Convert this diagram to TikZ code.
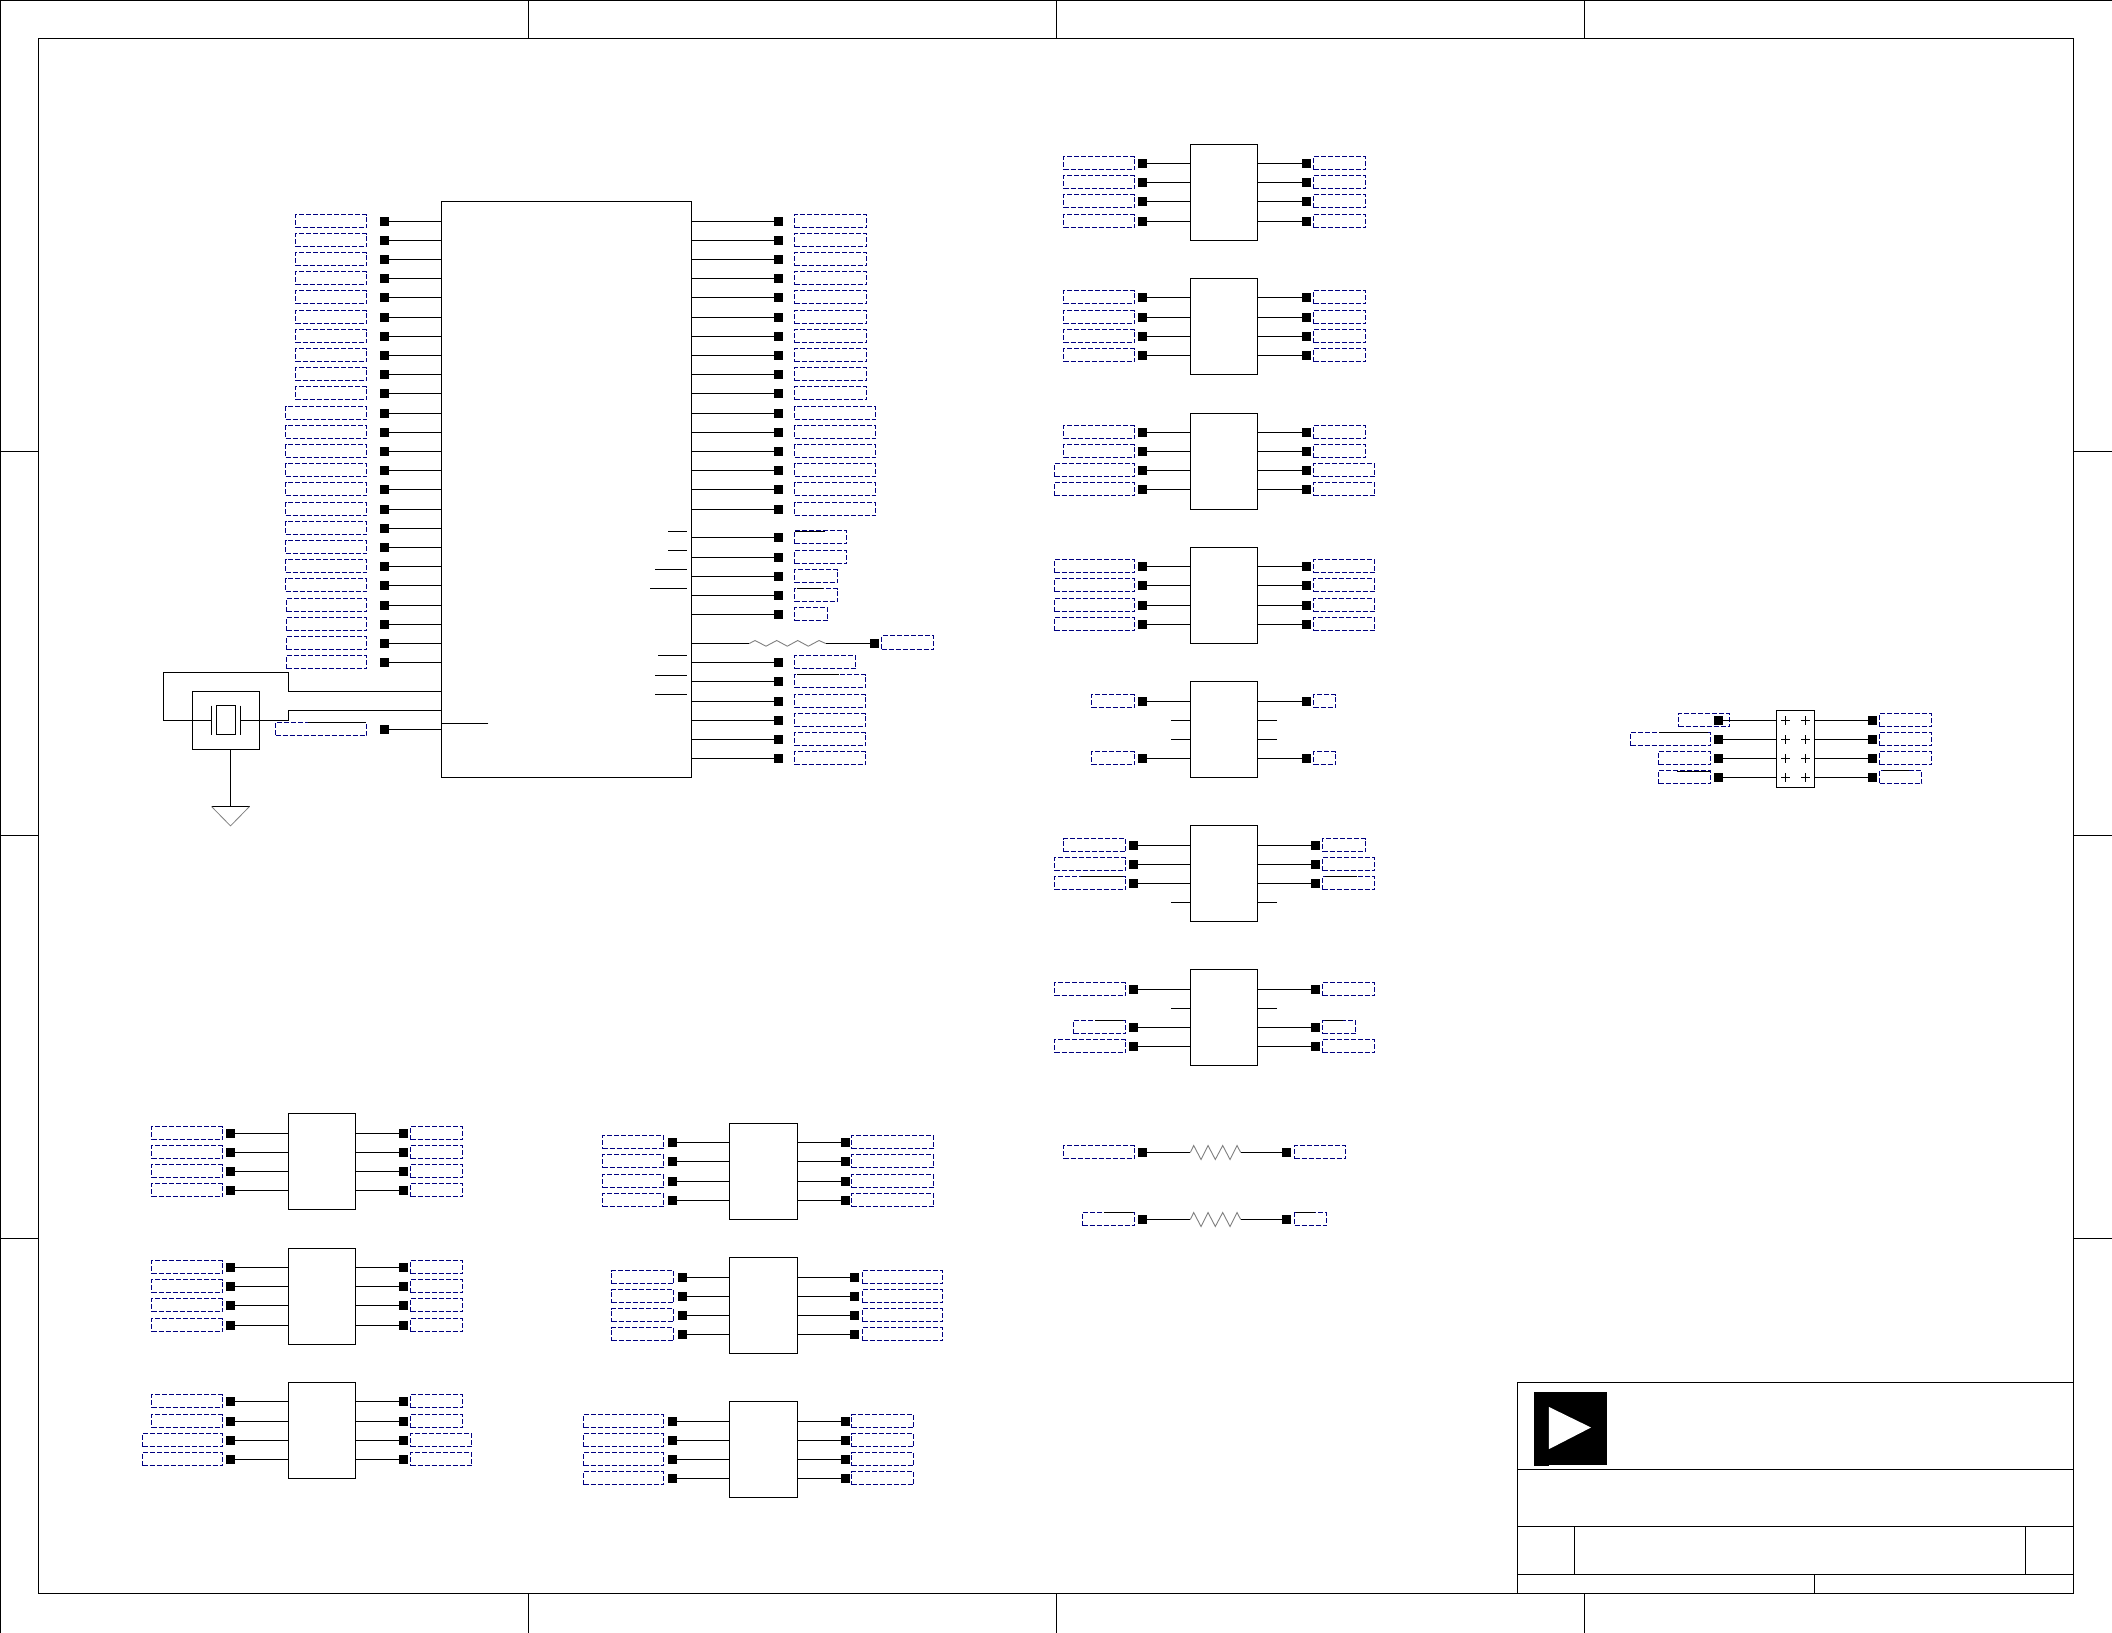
\documentclass[tikz,border=0pt]{standalone}
\usetikzlibrary{calc}
\definecolor{netblue}{HTML}{000080}
\tikzset{
  x=1pt,y=-1pt,
  frameline/.style={black,line width=1pt},
  wire/.style={black,line width=1pt},
  icbox/.style={draw=black,line width=1pt,fill=white,rectangle,inner sep=0pt,outer sep=0pt,minimum width=67pt,minimum height=96pt},
  sig/.style={draw=netblue,line width=1pt,dash pattern=on 5pt off 2pt,rectangle,inner sep=0pt,outer sep=0pt,minimum height=13.3pt},
  pad/.style={fill=black,rectangle,inner sep=0pt,outer sep=0pt,minimum size=9pt},
  zig/.style={gray,line width=0.9pt,line join=miter},
  overbar/.style={black,line width=1pt},
}
% name, y, box left, box right, pad centre x, ic
\newcommand{\sigbox}[4]{%
  \pgfmathsetmacro\xa{floor(#3)+0.5}\pgfmathsetmacro\xb{floor(#4)+0.5}%
  \pgfmathsetmacro\bw{\xb-\xa}\pgfmathsetmacro\bc{(\xa+\xb)/2}%
  \node[sig,minimum width=\bw pt] (#1) at (\bc,#2-0.35) {};
}
\newcommand{\lrow}[6]{%
  \sigbox{b#1}{#2}{#3}{#4}
  \node[pad] (p#1) at (#5,#2) {};
  \draw[wire] (p#1.east) -- (p#1.east -| #6.west);
}
\newcommand{\rrow}[6]{%
  \sigbox{b#1}{#2}{#3}{#4}
  \node[pad] (p#1) at (#5,#2) {};
  \draw[wire] (p#1.west) -- (p#1.west -| #6.east);
}
\newcommand{\icblock}[3]{\node[icbox] (#1) at ({#2+33.5},{#3+48}) {};}
\newcommand{\icwide}[3]{\node[icbox,minimum width=68pt] (#1) at ({#2+34},{#3+48}) {};}
\begin{document}
\begin{tikzpicture}
\useasboundingbox (0,0) rectangle (2112,1632.6);
\fill[white] (0,0) rectangle (2112,1632.6);
\begin{scope}[yshift=-0.2pt]

% sheet frame
\draw[frameline] (0.5,1632.6) -- (0.5,0.3) -- (2112,0.3);
\draw[frameline] (38.5,38.3) rectangle (2073.5,1593.3);
\foreach \x in {528.5,1056.5,1584.5} {
  \draw[frameline] (\x,0) -- (\x,38.3);
  \draw[frameline] (\x,1593.3) -- (\x,1632.6);
}
\foreach \y in {451.3,835.3,1238.3} {
  \draw[frameline] (0,\y) -- (38.5,\y);
  \draw[frameline] (2073.5,\y) -- (2112,\y);
}

% title block
\draw[frameline] (1517.5,1382.3) rectangle (2073.5,1593.3);
\draw[frameline] (1517.5,1469.3) -- (2073.5,1469.3);
\draw[frameline] (1517.5,1526.3) -- (2073.5,1526.3);
\draw[frameline] (1517.5,1574.3) -- (2073.5,1574.3);
\draw[frameline] (1574.5,1526.3) -- (1574.5,1574.3);
\draw[frameline] (2025.5,1526.3) -- (2025.5,1574.3);
\draw[frameline] (1814.5,1574.3) -- (1814.5,1593.3);
\fill[black] (1534,1391.7) rectangle (1606.5,1464.3);
\fill[black] (1534,1464) rectangle (1549,1465.3);
\fill[white] (1548.8,1406.7) -- (1591,1427.3) -- (1548.8,1449) -- cycle;

% main device
\node[icbox,minimum width=250pt,minimum height=576pt] (U) at (566.5,489.3) {};
\foreach \y/\a [count=\i] in {221.3/295,240.3/295,259.3/295,278.3/295,297.3/295,317.3/295,336.3/295,355.3/295,374.3/295,393.3/295,
  413.3/285.5,432.3/285.5,451.3/285.5,470.3/285.5,489.3/285.5,509.3/285.5,528.3/285.5,547.3/285.5,566.3/285.5,585.3/285.5,605.3/286.3,624.3/286.3,643.3/286.3,662.3/286.3} {
  \lrow{ML\i}{\y}{\a}{366.7}{384.5}{U}
}
\lrow{ML25}{729.3}{275.3}{366.7}{384.5}{U}
\foreach \y/\a [count=\i] in {221.3/866,240.3/866,259.3/866,278.3/866,297.3/866,317.3/866,336.3/866,355.3/866,374.3/866,393.3/866,
  413.3/875.7,432.3/875.7,451.3/875.7,470.3/875.7,489.3/875.7,509.3/875.7,
  537.3/846.7,557.3/846.7,576.3/837.7,595.3/837.7,614.3/827.7,
  662.3/855.7,681.3/865.7,701.3/865.7,720.3/865.7,739.3/865.7,758.3/865.7} {
  \rrow{MR\i}{\y}{794.3}{\a}{778.5}{U}
}
% main device inner stubs
\coordinate (s1) at (668,531.3); \draw[wire] (s1) -- (687,531.3);
\coordinate (s2) at (668,550.3); \draw[wire] (s2) -- (687,550.3);
\coordinate (s3) at (655,569.3); \draw[wire] (s3) -- (687,569.3);
\coordinate (s4) at (650,588.3); \draw[wire] (s4) -- (687,588.3);
\coordinate (s5) at (658.3,655.3); \draw[wire] (s5) -- (687,655.3);
\coordinate (s6) at (655,675.3); \draw[wire] (s6) -- (687,675.3);
\coordinate (s7) at (655,694.3); \draw[wire] (s7) -- (687,694.3);
\coordinate (s8) at (488.3,723.3); \draw[wire] (s8) -- (s8 -| U.west);

% main device series resistor
\coordinate (ra) at (749.3,643.3);
\coordinate (rb) at (825.7,643.3);
\node[pad] (pR) at (874.5,643.3) {};
\node[sig,minimum width=52pt,minimum height=14pt] (bR) at (907.5,642.3) {};
\draw[wire] (ra -| U.east) -- (ra);
\draw[zig] (ra) -- (755,640.3) -- (766,646) -- (776.7,640.3) -- (787.3,646) -- (797.7,640.3) -- (808.3,646) -- (819,640.3) -- (rb);
\draw[wire] (rb) -- (pR.west);

% crystal
\node[draw=black,line width=1pt,rectangle,inner sep=0pt,outer sep=0pt,minimum width=67pt,minimum height=58pt] (XB) at (226,720.3) {};
\node[draw=black,line width=1pt,rectangle,inner sep=0pt,outer sep=0pt,minimum width=19pt,minimum height=29pt] (XC) at (226,719.8) {};
\coordinate (xl) at (211.5,720.3);
\coordinate (xr) at (240.5,720.3);
\draw[wire] (211.5,705.3) -- (211.5,734.3);
\draw[wire] (240.5,705.3) -- (240.5,734.3);
\draw[wire] (xl) -- (163.5,720.3) -- (163.5,672.3) -- (288.5,672.3) -- (288.5,691.3) -- (288.5,691.3 -| U.west);
\draw[wire] (xr) -- (288.5,720.3) -- (288.5,710.3) -- (288.5,710.3 -| U.west);
% ground
\coordinate (gndtop) at (230.5,806.3);
\draw[wire] (230.5,749.3) -- (gndtop);
\draw[wire] (211.5,806.3) -- (249.5,806.3);
\draw[gray,line width=0.8pt] (211.5,806.3) -- (230.5,825.7) -- (249.5,806.3);

% logic blocks: left-hand bottom column
\icblock{A}{288.5}{1113.3}
\foreach \y [count=\i] in {1133.3,1152.3,1171.3,1190.3} {
  \lrow{AL\i}{\y}{151.3}{222.7}{230.5}{A}
  \rrow{AR\i}{\y}{410.3}{462.7}{403.5}{A}
}
\icblock{B}{288.5}{1248.3}
\foreach \y [count=\i] in {1267.3,1286.3,1305.3,1325.3} {
  \lrow{BL\i}{\y}{151.3}{222.7}{230.5}{B}
  \rrow{BR\i}{\y}{410.3}{462.7}{403.5}{B}
}
\icblock{C}{288.5}{1382.3}
\foreach \y/\a/\b [count=\i] in {1401.3/151.3/462.7,1421.3/151.3/462.7,1440.3/142.3/471.7,1459.3/142.3/471.7} {
  \lrow{CL\i}{\y}{\a}{222.7}{230.5}{C}
  \rrow{CR\i}{\y}{410.3}{\b}{403.5}{C}
}

% logic blocks: middle bottom column
\icwide{D}{729.5}{1123.3}
\foreach \y [count=\i] in {1142.3,1161.3,1181.3,1200.3} {
  \lrow{DL\i}{\y}{602.3}{663.7}{672.5}{D}
  \rrow{DR\i}{\y}{851.3}{933.7}{845.5}{D}
}
\icwide{E}{729.5}{1257.3}
\foreach \y [count=\i] in {1277.3,1296.3,1315.3,1334.3} {
  \lrow{EL\i}{\y}{611.3}{673.7}{682.5}{E}
  \rrow{ER\i}{\y}{862.3}{942.7}{854.5}{E}
}
\icwide{F}{729.5}{1401.3}
\foreach \y [count=\i] in {1421.3,1440.3,1459.3,1478.3} {
  \lrow{FL\i}{\y}{583.3}{663.7}{672.5}{F}
  \rrow{FR\i}{\y}{851.3}{913.7}{845.5}{F}
}

% logic blocks: top column
\icblock{G}{1190.5}{144.3}
\foreach \y [count=\i] in {163.3,182.3,201.3,221.3} {
  \lrow{GL\i}{\y}{1063.3}{1134.7}{1142.5}{G}
  \rrow{GR\i}{\y}{1313.3}{1365.7}{1306.5}{G}
}
\icblock{H}{1190.5}{278.3}
\foreach \y [count=\i] in {297.3,317.3,336.3,355.3} {
  \lrow{HL\i}{\y}{1063.3}{1134.7}{1142.5}{H}
  \rrow{HR\i}{\y}{1313.3}{1365.7}{1306.5}{H}
}
\icblock{I}{1190.5}{413.3}
\foreach \y/\a/\b [count=\i] in {432.3/1063.3/1365.7,451.3/1063.3/1365.7,470.3/1054.3/1374.7,489.3/1054.3/1374.7} {
  \lrow{IL\i}{\y}{\a}{1134.7}{1142.5}{I}
  \rrow{IR\i}{\y}{1313.3}{\b}{1306.5}{I}
}
\icblock{J}{1190.5}{547.3}
\foreach \y [count=\i] in {566.3,585.3,605.3,624.3} {
  \lrow{JL\i}{\y}{1054.3}{1134.7}{1142.5}{J}
  \rrow{JR\i}{\y}{1313.3}{1374.7}{1306.5}{J}
}
\icblock{K}{1190.5}{681.3}
\foreach \y [count=\i] in {701.3,758.3} {
  \lrow{KL\i}{\y}{1091.3}{1134.7}{1142.5}{K}
  \rrow{KR\i}{\y}{1313.3}{1335.3}{1306.5}{K}
}
\foreach \y [count=\i] in {720.3,739.3} {
  \coordinate (kl\i) at (1171,\y); \draw[wire] (kl\i) -- (kl\i -| K.west);
  \coordinate (kr\i) at (1277,\y); \draw[wire] (kr\i) -- (kr\i -| K.east);
}
\icblock{L}{1190.5}{825.3}
\foreach \y/\a/\b [count=\i] in {845.3/1063.3/1365.7,864.3/1054.3/1374.7,883.3/1054.3/1374.7} {
  \lrow{LL\i}{\y}{\a}{1125.7}{1133.5}{L}
  \rrow{LR\i}{\y}{1322.3}{\b}{1315.5}{L}
}
\coordinate (ll) at (1171,902.3); \draw[wire] (ll) -- (ll -| L.west);
\coordinate (lr) at (1277,902.3); \draw[wire] (lr) -- (lr -| L.east);
\icblock{M}{1190.5}{969.3}
\foreach \y/\a/\b [count=\i] in {989.3/1054.3/1374.7,1027.3/1073.3/1355.7,1046.3/1054.3/1374.7} {
  \lrow{ML-\i}{\y}{\a}{1125.7}{1133.5}{M}
  \rrow{MR-\i}{\y}{1322.3}{\b}{1315.5}{M}
}
\coordinate (ml) at (1171,1008.3); \draw[wire] (ml) -- (ml -| M.west);
\coordinate (mr) at (1277,1008.3); \draw[wire] (mr) -- (mr -| M.east);

% stand-alone resistors
\foreach \n/\y/\a/\b in {1/1152.3/1063.3/1345.7,2/1219.3/1082.3/1326.7} {
  \pgfmathsetmacro\yu{\y-7}\pgfmathsetmacro\yd{\y+7}
  \sigbox{rl\n}{\y}{\a}{1134.7}
  \sigbox{rr\n}{\y}{1294.3}{\b}
  \node[pad] (pl\n) at (1142.5,\y) {};
  \node[pad] (pr\n) at (1286.5,\y) {};
  \coordinate (za\n) at (1190.3,\y);
  \coordinate (zb\n) at (1240.7,\y);
  \draw[wire] (pl\n.east) -- (za\n);
  \draw[wire] (zb\n) -- (pr\n.west);
  \draw[zig] (za\n) -- (1193.7,\yu) -- (1201,\yd) -- (1208,\yu) -- (1215.3,\yd) -- (1222.7,\yu) -- (1230,\yd) -- (1237,\yu) -- (zb\n);
}

% header connector
\node[draw=black,line width=1pt,rectangle,inner sep=0pt,outer sep=0pt,minimum width=38pt,minimum height=77pt] (CN) at (1795.5,748.8) {};
\foreach \y/\a/\b/\c [count=\i] in {720.3/1678.3/1729.3/1931.7,739.3/1630.3/1710.7/1931.7,758.3/1658.3/1710.7/1931.7,777.3/1658.3/1710.7/1921.7} {
  \lrow{CNL\i}{\y}{\a}{\b}{1718.5}{CN}
  \rrow{CNR\i}{\y}{1879.3}{\c}{1872.5}{CN}
  \foreach \x in {1785.5,1805.5} {
    \draw[black,line width=1pt] (\x-4.5,\y) -- (\x+4.5,\y) (\x,\y-4.5) -- (\x,\y+4.5);
  }
}

% bars along box tops
\draw[overbar] (795,531.3) -- (825,531.3);
\draw[overbar] (797,588.3) -- (822.7,588.3);
\draw[overbar] (797,674.3) -- (839,674.3);
\draw[overbar] (308,722.3) -- (366,722.3);
\draw[overbar] (1659,732.3) -- (1708,732.3);
\draw[overbar] (1677,771.3) -- (1710,771.3);
\draw[overbar] (1883,770.3) -- (1909,770.3);
\draw[overbar] (1081,876.3) -- (1123,876.3);
\draw[overbar] (1325,876.3) -- (1357,876.3);
\draw[overbar] (1095,1020.3) -- (1123.3,1020.3);
\draw[overbar] (1325,1020.3) -- (1343,1020.3);
\draw[overbar] (1104,1212.3) -- (1133,1212.3);
\draw[overbar] (1296,1212.3) -- (1315,1212.3);
\end{scope}
\end{tikzpicture}
\end{document}
